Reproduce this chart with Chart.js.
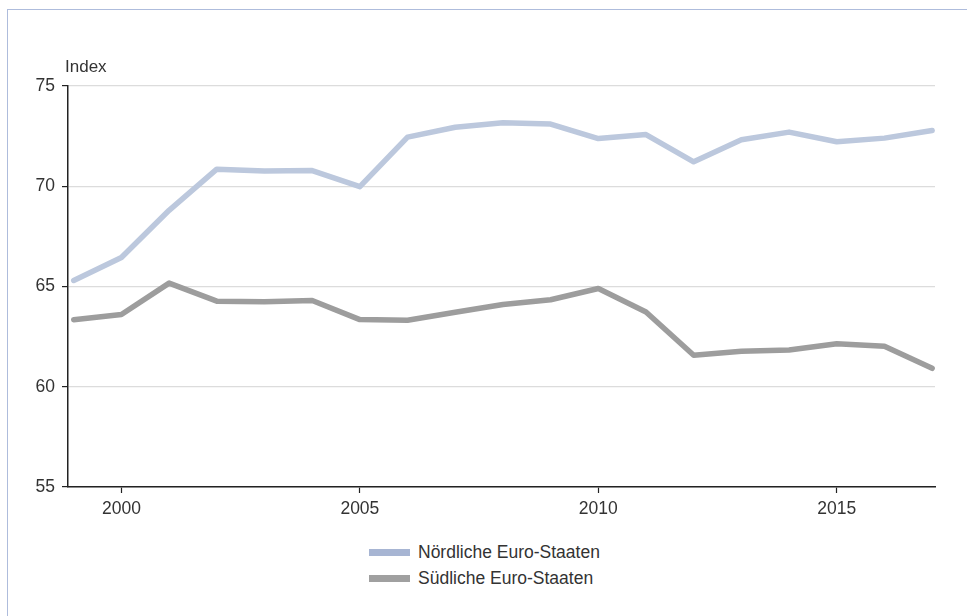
<!DOCTYPE html>
<html>
<head>
<meta charset="utf-8">
<script src="https://cdn.jsdelivr.net/npm/chart.js@4/dist/chart.umd.min.js"></script>
<style>
  html, body { margin: 0; padding: 0; background: #fff; overflow: hidden; }
  body { width: 967px; height: 616px; position: relative; font-family: "Liberation Sans", Arial, sans-serif; }
  #frame { position: absolute; left: 7px; top: 9px; width: 1000px; height: 700px;
           border-left: 1.5px solid #aebcdc; border-top: 1.5px solid #aebcdc; }
  #wrap { position: absolute; left: 0; top: 0; width: 967px; height: 530px; }
  #legend { position: absolute; left: 369px; top: 539px; font-size: 17.5px; color: #333; }
  .row { display: flex; align-items: center; height: 26px; }
  .sw { width: 41px; height: 7px; margin-right: 8px; }
</style>
</head>
<body>
<div id="frame"></div>
<div id="wrap"><canvas id="chart"></canvas></div>
<div id="legend"></div>
<script>
let years = [1999, 2000, 2001, 2002, 2003, 2004, 2005, 2006, 2007, 2008, 2009, 2010, 2011, 2012, 2013, 2014, 2015, 2016, 2017];
let nord = [65.3, 66.45, 68.8, 70.85, 70.76, 70.78, 69.98, 72.45, 72.94, 73.17, 73.1, 72.38, 72.58, 71.22, 72.32, 72.7, 72.22, 72.4, 72.78];
let sued = [63.34, 63.6, 65.17, 64.27, 64.24, 64.3, 63.35, 63.32, 63.72, 64.1, 64.34, 64.9, 63.73, 61.57, 61.77, 61.83, 62.14, 62.02, 60.92];
let seriesNames = ['Nördliche Euro-Staaten', 'Südliche Euro-Staaten'];
let seriesColors = ['#bcc8dd', '#9d9d9d'];
let legendColors = ['#a7b5d3', '#a0a0a0'];
let yTicks = [55, 60, 65, 70, 75];
let xTicks = [2000, 2005, 2010, 2015];

onload = () => {
    Chart.defaults.font.family = '"Liberation Sans", Arial, sans-serif';
    Chart.defaults.font.size = 17.5;
    Chart.defaults.color = '#333';

    let indexLabel = {
        id: 'indexLabel',
        afterDraw(chart) {
            let c = chart.ctx;
            c.save();
            c.font = '17px "Liberation Sans", Arial, sans-serif';
            c.fillStyle = '#333';
            c.textBaseline = 'alphabetic';
            c.fillText('Index', chart.chartArea.left - 3, chart.chartArea.top - 14);
            c.restore();
        }
    };

    let toPoints = arr => arr.map((v, i) => ({ x: years[i], y: v }));

    let ctx = document.getElementById('chart').getContext('2d');
    let chart = new Chart(ctx, {
        type: 'line',
        data: {
            datasets: [{
                label: seriesNames[0],
                data: toPoints(nord),
                borderColor: seriesColors[0],
                borderWidth: 5.5,
                pointRadius: 0,
                borderJoinStyle: 'round',
                borderCapStyle: 'round',
                tension: 0
            }, {
                label: seriesNames[1],
                data: toPoints(sued),
                borderColor: seriesColors[1],
                borderWidth: 5.5,
                pointRadius: 0,
                borderJoinStyle: 'round',
                borderCapStyle: 'round',
                tension: 0
            }]
        },
        options: {
            responsive: true,
            maintainAspectRatio: false,
            animation: false,
            layout: { padding: { left: 0, right: 32, top: 86, bottom: 3 } },
            plugins: { legend: { display: false }, tooltip: { enabled: false } },
            scales: {
                x: {
                    type: 'linear',
                    min: 1998.88,
                    max: 2017.06,
                    afterFit: s => { s.height = 40; },
                    afterBuildTicks: s => { s.ticks = xTicks.map(v => ({ value: v })); },
                    border: { color: '#222', width: 1.5 },
                    grid: { drawOnChartArea: false, drawTicks: true, tickLength: 6, tickColor: '#222', tickWidth: 1.2 },
                    ticks: { padding: 6, maxRotation: 0, callback: v => String(v) }
                },
                y: {
                    min: 55,
                    max: 75,
                    afterFit: s => { s.width = 68; },
                    afterBuildTicks: s => { s.ticks = yTicks.map(v => ({ value: v })); },
                    border: { color: '#222', width: 1.5 },
                    grid: { color: '#dcdcdc', lineWidth: 1.2, drawTicks: true, tickLength: 6, tickColor: '#222', tickWidth: 1.2 },
                    ticks: { padding: 7, callback: v => String(v) }
                }
            }
        },
        plugins: [indexLabel]
    });

    let legend = document.getElementById('legend');
    chart.data.datasets.forEach((ds, i) => {
        let row = document.createElement('div');
        row.className = 'row';
        let sw = document.createElement('span');
        sw.className = 'sw';
        sw.style.background = legendColors[i];
        let txt = document.createElement('span');
        txt.textContent = ds.label;
        row.appendChild(sw);
        row.appendChild(txt);
        legend.appendChild(row);
    });
};
</script>
</body>
</html>
